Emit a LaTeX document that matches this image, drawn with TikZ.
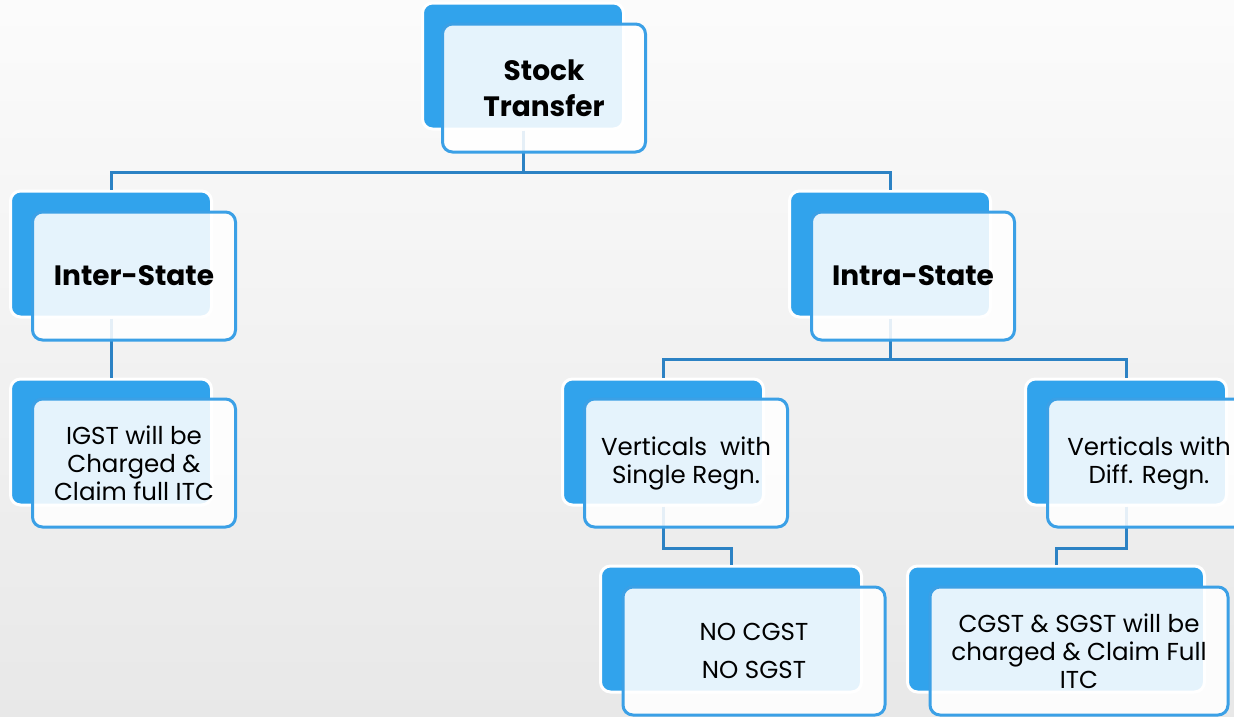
\documentclass[tikz,border=0pt]{standalone}
\usepackage{fontspec}
\setmainfont{Poppins}
\usetikzlibrary{positioning, calc}
\definecolor{tilebase}{RGB}{49, 163, 236}
\definecolor{tileedge}{RGB}{59, 160, 230}
\definecolor{linkblue}{RGB}{44, 130, 196}

\begin{document}
\begin{tikzpicture}[x=1pt, y=-1pt,
  backbox/.style={draw=white, line width=3pt, fill=tilebase, rounded corners=10pt, minimum width=#1, minimum height=126pt, inner sep=0pt},
  backbox/.default=201pt,
  frontbox/.style={draw=tileedge, line width=3pt, fill=white, fill opacity=0.88, text opacity=1, rounded corners=10pt, minimum width=#1, minimum height=128pt, align=center, inner sep=4pt},
  frontbox/.default=203pt,
  link/.style={draw=linkblue, line width=3pt},
  head/.style={font=\bfseries\fontsize{28}{36}\selectfont},
  body/.style={font=\fontsize{24.5}{28}\selectfont}
]
  \useasboundingbox (0,0) rectangle (1234,716);
  \shade[top color=gray!3, bottom color=gray!18] (0,0) rectangle (1234,716);

  % back tiles
  \node[backbox] (stockB) at (523, 66) {};
  \node[backbox] (interB) at (111, 254) {};
  \node[backbox] (intraB) at (890, 254) {};
  \node[backbox] (igstB) at (111, 442) {};
  \node[backbox] (singleB) at (663, 442) {};
  \node[backbox] (diffB) at (1126, 442) {};
  \node[backbox=261pt] (nocgstB) at (731, 629) {};
  \node[backbox=297pt] (cgstB) at (1056, 629) {};

  % connectors
  \draw[link] (stockB.south) -- ++(0,42) -| (interB.north);
  \draw[link] (stockB.south) -- ++(0,42) -| (intraB.north);
  \draw[link] (interB.south) -- (igstB.north);
  \draw[link] (intraB.south) -- ++(0,41) -| (singleB.north);
  \draw[link] (intraB.south) -- ++(0,41) -| (diffB.north);
  \draw[link] (singleB.south) -- ++(0,42) -| (nocgstB.north);
  \draw[link] (diffB.south) -- ++(0,42) -| (cgstB.north);

  % front tiles with the text
  \node[frontbox, head] (stock) at ($(stockB)+(21,22)$) {Stock\\Transfer};
  \node[frontbox, head] (inter) at ($(interB)+(23,22)$) {Inter-State};
  \node[frontbox, head] (intra) at ($(intraB)+(23,22)$) {Intra-State};
  \node[frontbox, body] (igst) at ($(igstB)+(23,21)$) {IGST will be\\Charged \&\\Claim full ITC};
  \node[frontbox, body] (single) at ($(singleB)+(23,21)$) {Verticals\ \ with\\Single Regn.};
  \node[frontbox, body] (diff) at ($(diffB)+(23,21)$) {Verticals with\\Diff. Regn.};
  \node[frontbox=262pt, body] (nocgst) at ($(nocgstB)+(23,22)$) {NO CGST\\[10pt]NO SGST};
  \node[frontbox=298pt, body] (cgst) at ($(cgstB)+(23,22)$) {CGST \& SGST will be\\charged \& Claim Full\\ITC};
\end{tikzpicture}
\end{document}
